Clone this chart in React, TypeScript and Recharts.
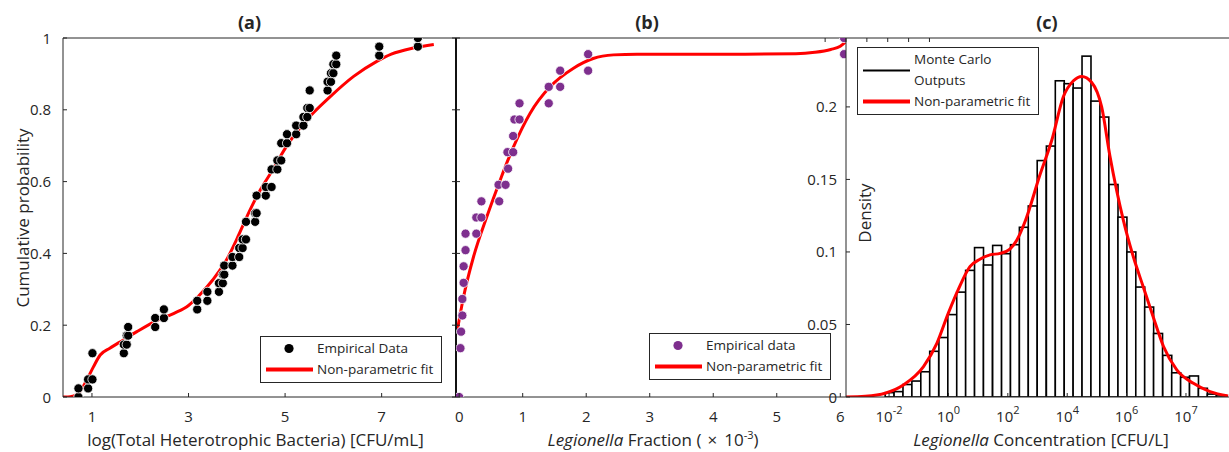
import React from 'react';
import { ComposedChart, Scatter, Line, Bar, XAxis, YAxis, Legend, Label, CartesianGrid } from 'recharts';

const FONT = '"Open Sans", Lato, sans-serif';
const INK = '#262626';
const RED = '#FF0000';
const PURPLE = '#7E2F8E';
const CH = 452;

// (a) total heterotrophic bacteria – empirical CDF steps (x = log CFU/mL)
const thbX = [0.72, 0.72, 0.92, 0.92, 1.01, 1.01, 1.66, 1.66, 1.72, 1.72, 1.75, 1.75, 2.31, 2.31, 2.49, 2.49, 3.18, 3.18, 3.39, 3.39, 3.63, 3.63, 3.71, 3.71, 3.74, 3.74, 3.91, 3.91, 4.05, 4.05, 4.12, 4.12, 4.19, 4.19, 4.38, 4.38, 4.41, 4.41, 4.6, 4.6, 4.72, 4.72, 4.84, 4.84, 4.92, 4.92, 5.04, 5.04, 5.23, 5.23, 5.38, 5.38, 5.46, 5.46, 5.51, 5.51, 5.88, 5.88, 5.95, 5.95, 6.0, 6.0, 6.06, 6.06, 6.95, 6.95, 7.75, 7.75];
const thbP = [0, 0.024, 0.024, 0.049, 0.049, 0.122, 0.122, 0.146, 0.146, 0.171, 0.171, 0.195, 0.195, 0.22, 0.22, 0.244, 0.244, 0.268, 0.268, 0.293, 0.293, 0.317, 0.317, 0.341, 0.341, 0.366, 0.366, 0.39, 0.39, 0.415, 0.415, 0.439, 0.439, 0.488, 0.488, 0.512, 0.512, 0.561, 0.561, 0.585, 0.585, 0.634, 0.634, 0.659, 0.659, 0.707, 0.707, 0.732, 0.732, 0.756, 0.756, 0.78, 0.78, 0.805, 0.805, 0.854, 0.854, 0.878, 0.878, 0.902, 0.902, 0.927, 0.927, 0.951, 0.951, 0.976, 0.976, 1];
const thbFitX = [0.4, 0.5, 0.6, 0.72, 0.89, 1.03, 1.17, 1.37, 1.65, 1.93, 2.3, 2.7, 3.0, 3.2, 3.5, 3.8, 4.0, 4.27, 4.5, 4.7, 5.0, 5.45, 5.93, 6.42, 6.9, 7.2, 7.65, 8.08];
const thbFitP = [0, 0, 0.002, 0.01, 0.047, 0.084, 0.117, 0.136, 0.159, 0.182, 0.21, 0.233, 0.255, 0.28, 0.326, 0.385, 0.44, 0.52, 0.58, 0.623, 0.692, 0.772, 0.836, 0.893, 0.935, 0.955, 0.972, 0.982];
const thbTicks = [1, 3, 5, 7];
const probTicks = [0, 0.2, 0.4, 0.6, 0.8, 1];

// (b) Legionella fraction (x 1e-3)
const fracX = [0, 0.02, 0.03, 0.05, 0.05, 0.07, 0.07, 0.1, 0.1, 0.27, 0.27, 0.35, 0.35, 0.63, 0.62, 0.73, 0.77, 0.76, 0.85, 0.85, 0.87, 0.95, 0.95, 1.41, 1.41, 1.59, 1.59, 2.03, 2.03, 6.06, 6.06];
const fracP = [0, 0.136, 0.182, 0.227, 0.273, 0.318, 0.364, 0.409, 0.455, 0.455, 0.5, 0.5, 0.545, 0.545, 0.591, 0.591, 0.636, 0.682, 0.682, 0.727, 0.773, 0.773, 0.818, 0.818, 0.864, 0.864, 0.909, 0.909, 0.955, 0.955, 1];
const fracFitX = [-0.04, 0.07, 0.225, 0.435, 0.645, 0.855, 1.115, 1.43, 1.8, 2.11, 2.43, 2.8, 3.5, 4.5, 5.3, 5.6, 5.85, 6.0, 6.09];
const fracFitP = [0.175, 0.28, 0.39, 0.502, 0.604, 0.697, 0.79, 0.864, 0.916, 0.943, 0.953, 0.955, 0.955, 0.955, 0.956, 0.96, 0.968, 0.977, 0.99];
const fracTicks = [0, 1, 2, 3, 4, 5, 6];

// (c) Monte Carlo Legionella concentration, log10 CFU/L
const binWidth = 0.3016;
const binCenters = [-1.98, -1.68, -1.38, -1.08, -0.78, -0.48, -0.17, 0.13, 0.43, 0.73, 1.03, 1.33, 1.64, 1.94, 2.24, 2.54, 2.84, 3.14, 3.45, 3.75, 4.05, 4.35, 4.65, 4.95, 5.25, 5.56, 5.86, 6.16, 6.46, 6.76, 7.06, 7.37, 7.67, 7.97, 8.27, 8.57, 8.87, 9.18];
const binDensity = [0.003, 0.0037, 0.0086, 0.011, 0.0174, 0.0315, 0.041, 0.0568, 0.0723, 0.0873, 0.103, 0.091, 0.1045, 0.0988, 0.105, 0.117, 0.1317, 0.163, 0.173, 0.218, 0.216, 0.213, 0.235, 0.204, 0.193, 0.1465, 0.124, 0.1, 0.0758, 0.062, 0.0438, 0.0287, 0.0167, 0.0136, 0.0145, 0.006, 0.002, 0.0014];
const concFitX = [-3.45, -2.8, -2.13, -1.52, -0.84, -0.39, 0, 0.33, 0.73, 1.06, 1.4, 1.74, 2.07, 2.3, 2.6, 3.08, 3.48, 3.87, 4.21, 4.49, 4.82, 5.16, 5.44, 5.89, 6.23, 6.56, 6.9, 7.24, 7.69, 8.25, 8.81, 9.42];
const concFitD = [0, 0.0005, 0.0026, 0.0083, 0.021, 0.037, 0.058, 0.074, 0.09, 0.095, 0.098, 0.099, 0.102, 0.108, 0.122, 0.153, 0.177, 0.207, 0.218, 0.221, 0.217, 0.2, 0.166, 0.122, 0.0965, 0.076, 0.055, 0.035, 0.0187, 0.0094, 0.0037, 0.0007];
const concTicks = [-2, 0, 2, 4, 6, 8];
const concTickExp = ['-2', '0', '2', '4', '6', '7'];
const densTicks = [0, 0.05, 0.1, 0.15, 0.2];

const zip = (xs: number[], ys: number[]) => xs.map((x, i) => ({ x, y: ys[i] }));

const TL = 4;
const TICK_FS = 15;
const LABEL_FS = 17;
const txt = { fill: INK, fontFamily: FONT };

// axes are 1px thick boxes so recharts still draws them; margins below account for that
const bottomTick = (fmt?: (v: number) => React.ReactNode) => (p: any) => (
  <g>
    <line x1={p.x} x2={p.x} y1={p.y} y2={p.y - TL} stroke={INK} />
    {fmt !== undefined && (
      <text x={p.x} y={p.y + 25} textAnchor="middle" fontSize={TICK_FS} {...txt}>{fmt(p.payload.value)}</text>
    )}
  </g>
);
const topTick = (p: any) => <line x1={p.x} x2={p.x} y1={p.y} y2={p.y + TL} stroke={INK} />;
const leftTick = (gap?: number) => (p: any) => (
  <g>
    <line x1={p.x} x2={p.x + TL} y1={p.y} y2={p.y} stroke={INK} />
    {gap !== undefined && (
      <text x={p.x - gap} y={p.y + 5.5} textAnchor="end" fontSize={TICK_FS} {...txt}>{p.payload.value}</text>
    )}
  </g>
);
const rightTick = (p: any) => <line x1={p.x} x2={p.x - TL} y1={p.y} y2={p.y} stroke={INK} />;

const xTitle = (body: React.ReactNode, dx: number) => (p: any) => {
  const { x, y, width } = p.viewBox;
  return <text x={x + width / 2 + dx} y={y + 49} textAnchor="middle" fontSize={LABEL_FS} {...txt}>{body}</text>;
};
const panelTitle = (body: string, dx: number) => (p: any) => {
  const { x, width } = p.viewBox;
  return <text x={x + width / 2 + dx} y={29} textAnchor="middle" fontSize={18} fontWeight="bold" {...txt}>{body}</text>;
};

type Row = { lines: string[]; kind: 'dot' | 'line'; color: string; w?: number };
const legendBox = (rows: Row[]) => () => (
  <div style={{ width: 182, boxSizing: 'border-box', border: `1px solid ${INK}`, background: '#fff', padding: '1px 0 2px', fontFamily: FONT, fontSize: 13.5, color: INK }}>
    {rows.map((r) => (
      <div key={r.lines[0]} style={{ display: 'flex', alignItems: 'center' }}>
        <svg width={56} height={21} style={{ flex: 'none' }}>
          {r.kind === 'dot'
            ? <circle cx={28} cy={10.5} r={4.6} fill={r.color} />
            : <line x1={5} x2={52} y1={10.5} y2={10.5} stroke={r.color} strokeWidth={r.w} />}
        </svg>
        <div style={{ lineHeight: '21px', whiteSpace: 'nowrap' }}>
          {r.lines.map((l) => <div key={l}>{l}</div>)}
        </div>
      </div>
    ))}
  </div>
);

const dot = (fill: string) => (p: any) => (
  <circle cx={p.cx} cy={p.cy} r={4.6} fill={fill} stroke="#fff" strokeWidth={0.8} />
);

const box = (left: number, right: number, width: number) => ({ top: 37, left: left - 1, right: width - right - 1, bottom: CH - 397 - 1 });

function PanelA() {
  return (
    <ComposedChart width={1229} height={CH} margin={box(63, 456, 1229)}>
      <XAxis dataKey="x" type="number" domain={[0.4, 8.54]} allowDataOverflow ticks={thbTicks} height={1} tickSize={0} tickMargin={0}
        tickLine={false} axisLine={{ stroke: INK }} tick={bottomTick((v) => v)}>
        <Label content={xTitle('log(Total Heterotrophic Bacteria) [CFU/mL]', -4)} />
      </XAxis>
      <XAxis xAxisId="top" orientation="top" type="number" domain={[0.4, 8.54]} allowDataOverflow ticks={thbTicks} height={1}
        tickSize={0} tickMargin={0} tickLine={false} axisLine={{ stroke: INK }} tick={topTick}>
        <Label content={panelTitle('(a)', -10)} />
      </XAxis>
      <YAxis dataKey="y" type="number" domain={[0, 1]} allowDataOverflow ticks={probTicks} width={1} tickSize={0} tickMargin={0}
        tickLine={false} axisLine={{ stroke: INK }} tick={leftTick(12)}>
        <Label content={() => (
          <text transform="translate(29, 218) rotate(-90)" textAnchor="middle" fontSize={LABEL_FS} {...txt}>Cumulative probability</text>
        )} />
      </YAxis>
      <YAxis yAxisId="right" orientation="right" type="number" domain={[0, 1]} allowDataOverflow ticks={probTicks} width={1}
        tickSize={0} tickMargin={0} tickLine={false} axisLine={{ stroke: INK }} tick={rightTick} />
      <Scatter data={zip(thbX, thbP)} shape={dot('#000')} isAnimationActive={false} />
      <Line data={zip(thbFitX, thbFitP)} dataKey="y" type="monotone" stroke={RED} strokeWidth={3} dot={false} activeDot={false} isAnimationActive={false} />
      <Legend layout="vertical" align="center" verticalAlign="middle" wrapperStyle={{ left: 260, top: 336, width: 182 }}
        content={legendBox([
          { lines: ['Empirical Data'], kind: 'dot', color: '#000' },
          { lines: ['Non-parametric fit'], kind: 'line', color: RED, w: 4 },
        ])} />
    </ComposedChart>
  );
}

function PanelB() {
  return (
    <ComposedChart width={1229} height={CH} margin={{ ...box(456, 846, 1229), right: 1229 - 846 }}>
      <XAxis dataKey="x" type="number" domain={[-0.05, 6.09]} allowDataOverflow ticks={fracTicks} height={1} tickSize={0} tickMargin={0}
        tickLine={false} axisLine={{ stroke: INK }} tick={bottomTick((v) => v)}>
        <Label content={xTitle(
          <>
            <tspan fontStyle="italic">Legionella</tspan> Fraction (<tspan dx={6}>×</tspan><tspan dx={7}>10</tspan>
            <tspan dy={-7} fontSize={11}>-3</tspan><tspan dy={7}>)</tspan>
          </>, 2)} />
      </XAxis>
      <XAxis xAxisId="top" orientation="top" type="number" domain={[-0.05, 6.09]} allowDataOverflow ticks={fracTicks} height={1}
        tickSize={0} tickMargin={0} tickLine={false} axisLine={{ stroke: INK }} tick={topTick}>
        <Label content={panelTitle('(b)', -4)} />
      </XAxis>
      <YAxis dataKey="y" type="number" domain={[0, 1]} allowDataOverflow ticks={probTicks} width={1} tickSize={0} tickMargin={0}
        tickLine={false} axisLine={{ stroke: '#111', strokeWidth: 2 }} tick={leftTick()} />
      <Scatter data={zip(fracX, fracP)} shape={dot(PURPLE)} isAnimationActive={false} />
      <Line data={zip(fracFitX, fracFitP)} dataKey="y" type="monotone" stroke={RED} strokeWidth={3} dot={false} activeDot={false} isAnimationActive={false} />
      <Legend layout="vertical" align="center" verticalAlign="middle" wrapperStyle={{ left: 649, top: 333, width: 182 }}
        content={legendBox([
          { lines: ['Empirical data'], kind: 'dot', color: PURPLE },
          { lines: ['Non-parametric fit'], kind: 'line', color: RED, w: 4 },
        ])} />
    </ComposedChart>
  );
}

function PanelC() {
  const left = 846;
  const right = 1232;
  const domain: [number, number] = [-3.45, 9.55];
  const barPx = ((right - left) / (domain[1] - domain[0])) * binWidth;
  const bins = binCenters.map((x, i) => ({ x, d: binDensity[i] }));
  const expTick = (v: number) => (
    <>10<tspan dy={-8} fontSize={11}>{concTickExp[concTicks.indexOf(v)]}</tspan></>
  );
  const binShape = (p: any) => (
    <rect x={p.x + p.width / 2 - barPx / 2} y={p.y} width={barPx} height={Math.max(p.height, 0)} fill="#fff" stroke="#000" strokeWidth={1.6} />
  );
  return (
    <ComposedChart width={1240} height={CH} data={bins} margin={{ ...box(left, right, 1240), right: 1240 - right }}
      barCategoryGap={0} barGap={0}>
      <CartesianGrid horizontal={false} vertical={false} fill="#fff" />
      <XAxis dataKey="x" type="number" domain={domain} allowDataOverflow ticks={concTicks} height={1} tickSize={0} tickMargin={0}
        tickLine={false} axisLine={{ stroke: INK }} tick={bottomTick(expTick)}>
        <Label content={xTitle(
          <>
            <tspan fontStyle="italic">Legionella</tspan> Concentration [CFU/L]
          </>, 2)} />
      </XAxis>
      <XAxis xAxisId="top" orientation="top" type="number" domain={domain} allowDataOverflow ticks={concTicks} height={1}
        tickSize={0} tickMargin={0} tickLine={false} axisLine={{ stroke: INK }} tick={topTick}>
        <Label content={panelTitle('(c)', 8)} />
      </XAxis>
      <YAxis type="number" domain={[0, 0.2475]} allowDataOverflow ticks={densTicks} width={1} tickSize={0} tickMargin={0}
        tickLine={false} axisLine={{ stroke: INK }} tick={leftTick(9)}>
        <Label content={() => (
          <text transform="translate(871, 213) rotate(-90)" textAnchor="middle" fontSize={LABEL_FS} {...txt}>Density</text>
        )} />
      </YAxis>
      <Bar dataKey="d" shape={binShape} isAnimationActive={false} />
      <Line data={zip(concFitX, concFitD)} dataKey="y" type="monotone" stroke={RED} strokeWidth={3} dot={false} activeDot={false} isAnimationActive={false} />
      <Legend layout="vertical" align="center" verticalAlign="middle" wrapperStyle={{ left: 857, top: 47, width: 182 }}
        content={legendBox([
          { lines: ['Monte Carlo', 'Outputs'], kind: 'line', color: '#000', w: 2 },
          { lines: ['Non-parametric fit'], kind: 'line', color: RED, w: 4 },
        ])} />
    </ComposedChart>
  );
}

export default function App() {
  const layer: React.CSSProperties = { position: 'absolute', left: 0, top: 0 };
  return (
    <div style={{ position: 'fixed', left: 0, top: 0, width: 1229, height: CH, background: '#fff', overflow: 'hidden', fontFamily: FONT }}>
      <div style={layer}><PanelA /></div>
      <div style={layer}><PanelB /></div>
      <div style={layer}><PanelC /></div>
    </div>
  );
}
